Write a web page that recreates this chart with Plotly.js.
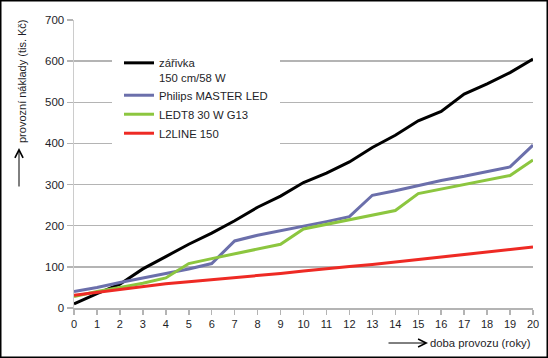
<!DOCTYPE html>
<html>
<head>
<meta charset="utf-8">
<script src="https://cdn.plot.ly/plotly-3.0.1.min.js"></script>
<style>
html,body{margin:0;padding:0;background:#fff;}
#chart{width:548px;height:358px;}
</style>
</head>
<body>
<div id="chart"></div>
<script>
var years = [0,1,2,3,4,5,6,7,8,9,10,11,12,13,14,15,16,17,18,19,20];
var zarivka = [10,35,58,95,125,155,182,212,245,272,305,328,355,390,420,455,478,520,545,572,605];
var philips = [40,50,62,73,84,95,108,163,177,188,198,210,222,274,285,297,310,320,332,343,396];
var ledt8 = [28,40,50,60,73,108,120,132,143,155,192,203,214,226,237,278,289,300,311,322,360];
var l2line = [31,38,46,53,59,64,69,73,78,84,90,96,101,106,112,118,124,130,136,142,148];
var seriesNames = ['zářivka<br>150 cm/58 W','Philips MASTER LED','LEDT8 30 W G13','L2LINE 150'];
var yTicks = [0,100,200,300,400,500,600,700];

var font = 'Liberation Sans, Arial, Helvetica, sans-serif';
var W = 548, H = 358, ml = 74, mr = 15, mt = 20, mb = 50;
var pw = W - ml - mr, ph = H - mt - mb;
function px(x){ return (x - ml) / pw; }
function py(y){ return (H - mb - y) / ph; }

function tr(y, name, color){
  return {x: years, y: y, name: name, type: 'scatter', mode: 'lines',
    line: {color: color, width: 3}};
}
var data = [
  tr(zarivka, seriesNames[0], '#000000'),
  tr(philips, seriesNames[1], '#6b6fab'),
  tr(ledt8, seriesNames[2], '#8cc63f'),
  tr(l2line, seriesNames[3], '#ee2a24')
];

var layout = {
  width: W, height: H,
  margin: {l: ml, r: mr, t: mt, b: mb},
  paper_bgcolor: '#ffffff', plot_bgcolor: '#ffffff',
  font: {family: font, size: 11.5, color: '#1e1e28'},
  showlegend: true,
  legend: {x: px(112), xanchor: 'left', y: py(42), yanchor: 'top',
    bgcolor: '#ffffff', bordercolor: '#ffffff', borderwidth: 7,
    font: {family: font, size: 11.3, color: '#1e1e28'}, valign: 'top', itemwidth: 30},
  xaxis: {range: [0, 20], tickmode: 'array', tickvals: years, ticktext: years.map(String),
    showgrid: false, zeroline: false, showline: true, linecolor: '#b4b4b4', linewidth: 1.5,
    ticks: 'outside', ticklen: 5, tickcolor: '#b4b4b4', tickwidth: 1.5,
    tickfont: {family: font, size: 11, color: '#1e1e28'}, fixedrange: true},
  yaxis: {range: [0, 700], tickmode: 'array', tickvals: yTicks,
    showgrid: true, gridcolor: '#b4b4b4', gridwidth: 1.5, zeroline: false,
    showline: true, linecolor: '#cccccc', linewidth: 1.5,
    ticks: 'outside', ticklen: 6, tickcolor: '#b4b4b4', tickwidth: 1.5,
    tickfont: {family: font, size: 11.5, color: '#1e1e28'}, fixedrange: true},
  annotations: [
    {xref: 'paper', yref: 'paper', x: px(22.5), y: py(81.5), text: 'provozní náklady (tis. Kč)',
      textangle: -90, showarrow: false, xanchor: 'center', yanchor: 'middle',
      font: {family: font, size: 11, color: '#1e1e28'}},
    {xref: 'paper', yref: 'paper', x: px(19), y: py(148), text: '', showarrow: true,
      axref: 'pixel', ayref: 'pixel', ax: 0, ay: 40, arrowhead: 5, arrowsize: 1.6, arrowwidth: 1, arrowcolor: '#000'},
    {xref: 'paper', yref: 'paper', x: px(533), y: py(343), text: 'doba provozu (roky)',
      showarrow: false, xanchor: 'right', yanchor: 'middle',
      font: {family: font, size: 11.3, color: '#1e1e28'}},
    {xref: 'paper', yref: 'paper', x: px(428), y: py(343), text: '', showarrow: true,
      axref: 'pixel', ayref: 'pixel', ax: -41, ay: 0, arrowhead: 5, arrowsize: 1.6, arrowwidth: 1, arrowcolor: '#000'}
  ],
  shapes: [
    {type: 'rect', xref: 'paper', yref: 'paper', x0: px(0.75), x1: px(547.25), y0: py(0.75), y1: py(357.25),
      line: {color: '#000', width: 1.5}, fillcolor: 'rgba(0,0,0,0)', layer: 'above'}
  ]
};

Plotly.newPlot('chart', data, layout, {displayModeBar: false, staticPlot: true});
</script>
</body>
</html>
